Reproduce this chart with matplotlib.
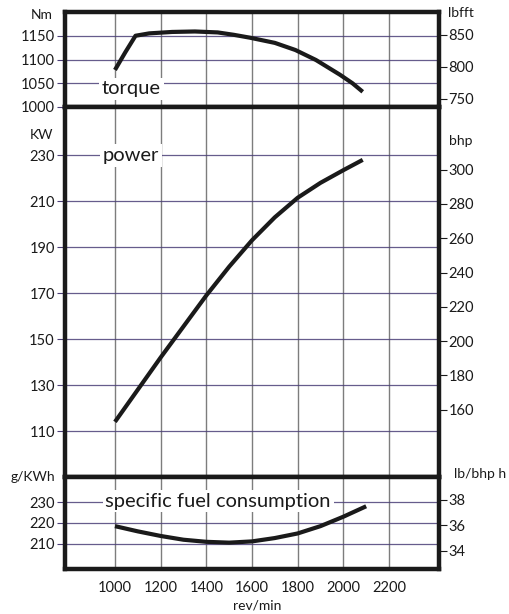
import matplotlib.pyplot as plt

plt.rcParams['font.family'] = ['Lato', 'DejaVu Sans']

# --- data ---
rpm_ticks = [1000, 1200, 1400, 1600, 1800, 2000, 2200]

torque_rpm = [1000, 1045, 1090, 1150, 1250, 1350, 1450, 1520, 1590, 1700, 1790, 1880, 1985, 2040, 2085]
torque_nm = [1078, 1115, 1150, 1155, 1158, 1159, 1157, 1152, 1146, 1135, 1120, 1099, 1068, 1050, 1032]

power_rpm = [1000, 1200, 1400, 1500, 1600, 1700, 1800, 1900, 2000, 2085]
power_kw = [114, 142, 169, 181.5, 193, 203, 211.5, 218, 223.5, 228]

fuel_rpm = [1000, 1100, 1200, 1300, 1400, 1500, 1600, 1700, 1800, 1900, 2000, 2100]
fuel_gkwh = [218.5, 216, 213.8, 212, 211, 210.6, 211.2, 212.8, 215, 218.5, 223, 228]

torque_ticks = [1000, 1050, 1100, 1150]
lbft_ticks = [750, 800, 850]
power_ticks = [110, 130, 150, 170, 190, 210, 230]
bhp_ticks = [160, 180, 200, 220, 240, 260, 280, 300]
fuel_ticks = [210, 220, 230]
lbbhp_ticks = [34, 36, 38]

NM_PER_LBFT = 1.35582
BHP_PER_KW = 1.34102
LBBHP_PER_GKWH = 0.1644  # in 1/100 lb/bhp h

grid_h = '#4b3f78'
grid_v = '#7d7d7d'
ink = '#1a1a1a'

fig = plt.figure(figsize=(5.09, 6.14), dpi=100)
fig.patch.set_facecolor('white')

left, width = 64.5 / 509, (439 - 64.5) / 509
def panel(top_px, bot_px):
    return fig.add_axes([left, 1 - bot_px / 614, width, (bot_px - top_px) / 614])

ax_t = panel(12, 107)
ax_p = panel(107, 477)
ax_f = panel(477, 569)

for ax in (ax_t, ax_p, ax_f):
    ax.set_xlim(779, 2419)
    ax.set_xticks(rpm_ticks)
    ax.set_axisbelow(True)
    ax.xaxis.grid(True, color=grid_v, lw=1.0)
    ax.yaxis.grid(True, color=grid_h, lw=0.9, alpha=0.85)
    for s in ax.spines.values():
        s.set_linewidth(3.2)
        s.set_color(ink)
    ax.tick_params(axis='y', direction='out', length=6, width=0.8, color=grid_h,
                   pad=1, labelsize=10.5, labelcolor=ink)
    ax.tick_params(axis='x', length=0, labelbottom=False)

ax_f.tick_params(axis='x', labelbottom=True, pad=9, labelsize=10.5, labelcolor=ink)

# torque
ax_t.set_ylim(1000, 1200)
ax_t.set_yticks(torque_ticks)
ax_t.plot(torque_rpm, torque_nm, color=ink, lw=3, solid_capstyle='butt',
          solid_joinstyle='round', zorder=4)
ax_t.text(942, 1038, 'torque', fontsize=14.5, va='center', ha='left', color=ink,
          bbox=dict(facecolor='white', edgecolor='none', pad=2), zorder=3)
sec_t = ax_t.secondary_yaxis('right', functions=(lambda v: v / NM_PER_LBFT,
                                                  lambda v: v * NM_PER_LBFT))
sec_t.set_yticks(lbft_ticks)

# power
ax_p.set_ylim(90, 251)
ax_p.set_yticks(power_ticks)
ax_p.plot(power_rpm, power_kw, color=ink, lw=3, solid_capstyle='butt',
          solid_joinstyle='round', zorder=4)
ax_p.text(947, 230, 'power', fontsize=14.5, va='center', ha='left', color=ink,
          bbox=dict(facecolor='white', edgecolor='none', pad=2), zorder=3)
sec_p = ax_p.secondary_yaxis('right', functions=(lambda v: v * BHP_PER_KW,
                                                  lambda v: v / BHP_PER_KW))
sec_p.set_yticks(bhp_ticks)

# specific fuel consumption
ax_f.set_ylim(198, 242)
ax_f.set_yticks(fuel_ticks)
ax_f.plot(fuel_rpm, fuel_gkwh, color=ink, lw=3, solid_capstyle='butt',
          solid_joinstyle='round', zorder=4)
ax_f.text(958, 230.5, 'specific fuel consumption', fontsize=14.5, va='center', ha='left',
          color=ink, bbox=dict(facecolor='white', edgecolor='none', pad=2), zorder=3)
sec_f = ax_f.secondary_yaxis('right', functions=(lambda v: v * LBBHP_PER_GKWH,
                                                  lambda v: v / LBBHP_PER_GKWH))
sec_f.set_yticks(lbbhp_ticks)

for sec in (sec_t, sec_p, sec_f):
    for s in sec.spines.values():
        s.set_visible(False)
    sec.tick_params(direction='out', length=6, width=0.8, color=ink, pad=1,
                    labelsize=10.5, labelcolor=ink)

# unit labels
def unit(x_px, y_px, s, ha):
    fig.text(x_px / 509, 1 - y_px / 614, s, ha=ha, va='center', fontsize=10, color=ink)

unit(53, 15, 'Nm', 'right')
unit(53, 135, 'KW', 'right')
unit(55, 477, 'g/KWh', 'right')
unit(448, 13, 'lbfft', 'left')
unit(449, 141, 'bhp', 'left')
unit(454, 474, 'lb/bhp h', 'left')
unit(257, 605, 'rev/min', 'center')

fig.savefig('out.png', dpi=100, facecolor='white')
